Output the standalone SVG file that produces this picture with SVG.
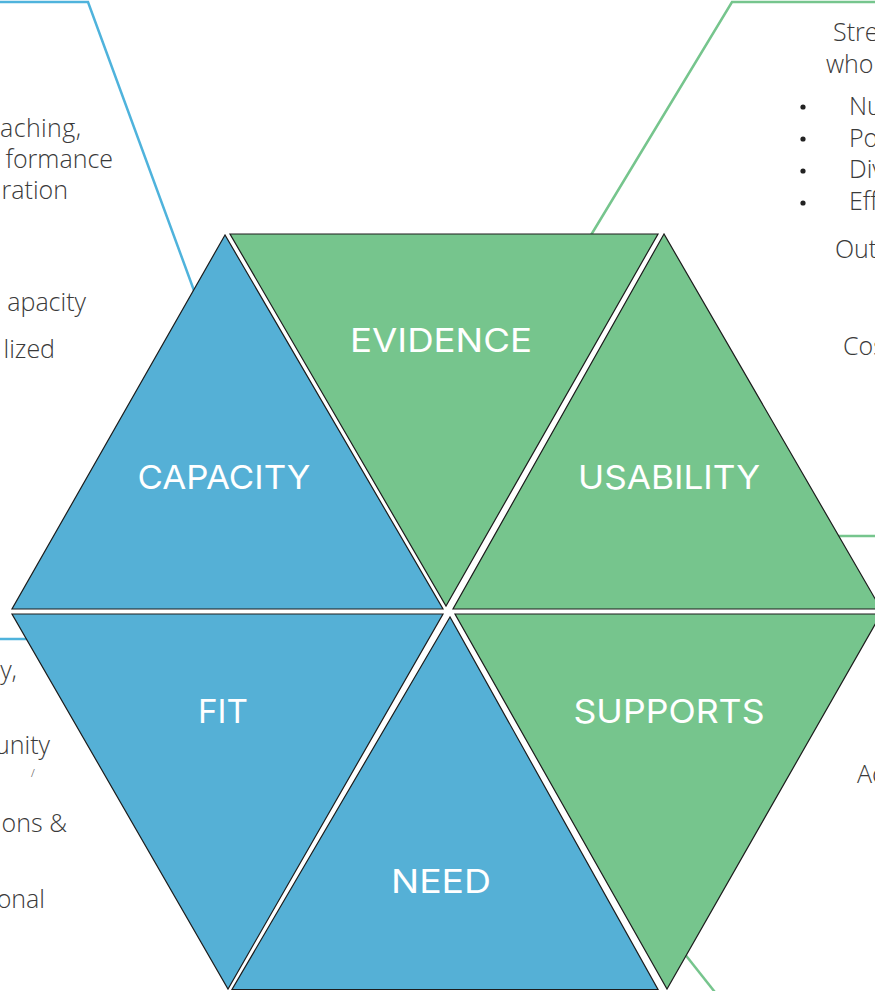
<svg xmlns="http://www.w3.org/2000/svg" width="875" height="991" viewBox="0 0 875 991">
<style>
.txt{font-family:"Open Sans","Liberation Sans",sans-serif;font-weight:300;font-size:25px;fill:#3a3a3a}
.end{text-anchor:end}
.lbl{font-family:Inter,"Liberation Sans",sans-serif;font-weight:400;font-size:33px;fill:#ffffff;text-anchor:middle}
.blue{fill:#55b0d6;stroke:#1c1c1c;stroke-width:1.2;stroke-linejoin:miter}
.green{fill:#76c58d;stroke:#1c1c1c;stroke-width:1.2;stroke-linejoin:miter}
.cb{fill:none;stroke:#4fb3dc;stroke-width:2.5}
.cg{fill:none;stroke:#76c58d;stroke-width:2.5}
</style>
<rect width="875" height="991" fill="#ffffff"/>
<g id="connectors">
<polyline class="cb" points="0,2 88,2 196,296"/>
<polyline class="cb" points="0,639 32,639"/>
<polyline class="cg" points="588,240 732,2 875,2"/>
<polyline class="cg" points="830,536 875,536"/>
<polyline class="cg" points="680,948 718,996"/>
</g>
<g id="left-text">
<text class="txt end" x="81" y="137" textLength="81" lengthAdjust="spacing">aching,</text>
<text class="txt end" x="113" y="168">formance</text>
<text class="txt end" x="68" y="199">ration</text>
<text class="txt end" x="86" y="311">apacity</text>
<text class="txt end" x="55" y="358">lized</text>
<text class="txt end" x="17" y="679">y,</text>
<text class="txt end" x="50" y="754">unity</text>
<text class="txt" x="31" y="777" style="font-size:11px">/</text>
<text class="txt end" x="67" y="832">ons &amp;</text>
<text class="txt end" x="45" y="908">onal</text>
</g>
<g id="right-text">
<text class="txt" x="833" y="41">Stre</text>
<text class="txt" x="826" y="73">who</text>
<circle cx="803" cy="107" r="2.6" fill="#222"/>
<circle cx="803" cy="139" r="2.6" fill="#222"/>
<circle cx="803" cy="171" r="2.6" fill="#222"/>
<circle cx="803" cy="203" r="2.6" fill="#222"/>
<text class="txt" x="849" y="115">Nu</text>
<text class="txt" x="849" y="147">Po</text>
<text class="txt" x="849" y="178">Div</text>
<text class="txt" x="849" y="210">Eff</text>
<text class="txt" x="835" y="258">Out</text>
<text class="txt" x="843" y="355">Cos</text>
<text class="txt" x="857" y="783">Ac</text>
</g>
<g id="capacity">
<path class="blue" d="M225,235 L12,609 L443,609 Z"/>
<text class="lbl" x="224" y="489" textLength="173" lengthAdjust="spacingAndGlyphs">CAPACITY</text>
</g>
<g id="evidence">
<path class="green" d="M230,234 L658,234 L446,606 Z"/>
<text class="lbl" x="441" y="352" textLength="182" lengthAdjust="spacingAndGlyphs">EVIDENCE</text>
</g>
<g id="usability">
<path class="green" d="M664,234 L453,609 L881,609 Z"/>
<text class="lbl" x="669" y="489" textLength="182" lengthAdjust="spacingAndGlyphs">USABILITY</text>
</g>
<g id="fit">
<path class="blue" d="M12,614 L443,614 L228,989 Z"/>
<text class="lbl" x="223" y="723" textLength="50" lengthAdjust="spacingAndGlyphs">FIT</text>
</g>
<g id="need">
<path class="blue" d="M450,617 L232,989.5 L658,989.5 Z"/>
<text class="lbl" x="441" y="893" textLength="100" lengthAdjust="spacingAndGlyphs">NEED</text>
</g>
<g id="supports">
<path class="green" d="M455,614 L881,614 L667,989 Z"/>
<text class="lbl" x="669" y="723" textLength="191" lengthAdjust="spacingAndGlyphs">SUPPORTS</text>
</g>
</svg>
